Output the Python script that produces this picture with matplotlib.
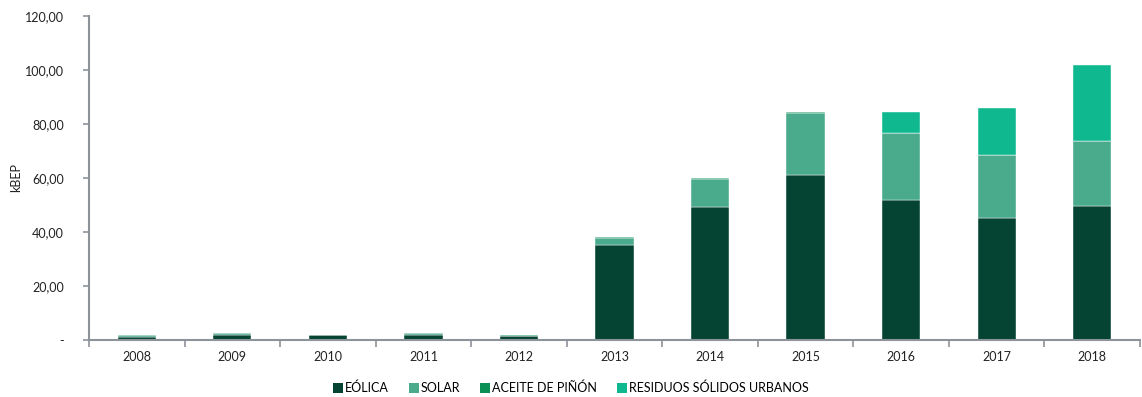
import matplotlib
matplotlib.use("Agg")
import matplotlib.pyplot as plt
from matplotlib.ticker import FixedLocator, FuncFormatter
from matplotlib.patches import Patch
import numpy as np

plt.rcParams['font.family'] = ['Lato', 'DejaVu Sans']

years = ['2008', '2009', '2010', '2011', '2012', '2013', '2014', '2015', '2016', '2017', '2018']
eolica = [1.2, 1.8, 2.0, 1.8, 1.3, 35.2, 49.1, 61.1, 51.9, 45.2, 49.8]
solar = [0.5, 0.7, 0.0, 0.7, 0.0, 2.4, 10.7, 23.0, 24.6, 23.5, 23.9]
aceite = [0.0, 0.0, 0.0, 0.0, 0.7, 0.4, 0.3, 0.3, 0.0, 0.0, 0.0]
rsu = [0.0, 0.0, 0.0, 0.0, 0.0, 0.0, 0.0, 0.0, 7.9, 17.4, 28.2]

series = [('EÓLICA', eolica, '#054333'),
          ('SOLAR', solar, '#4aaa8c'),
          ('ACEITE DE PIÑÓN', aceite, '#0a8f55'),
          ('RESIDUOS SÓLIDOS URBANOS', rsu, '#10b890')]

fig = plt.figure(figsize=(11.42, 3.97), dpi=100)
ax = fig.add_axes([89/1142, 1-340/397, (1140-89)/1142, (340-16)/397])

x = np.arange(len(years))
bottom = np.zeros(len(years))
for name, vals, col in series:
    v = np.array(vals)
    ax.bar(x, v, width=0.4, bottom=bottom, color=col, edgecolor='white', linewidth=0.3, zorder=2)
    bottom += v

ax.set_xlim(-0.5, len(years) - 0.5)
ax.set_ylim(0, 120)
ax.yaxis.set_major_locator(FixedLocator([0, 20, 40, 60, 80, 100, 120]))
ax.yaxis.set_major_formatter(FuncFormatter(lambda v, p: '-' if v == 0 else f'{v:.2f}'.replace('.', ',')))
ax.set_xticks(x)
ax.set_xticklabels(years)
ax.xaxis.set_minor_locator(FixedLocator(np.arange(-0.5, len(years), 1.0)))
ax.tick_params(axis='x', which='major', length=0, labelsize=9, colors='#222222', pad=8)
ax.tick_params(axis='x', which='minor', length=5, color='#8c9399', width=1.2)
ax.tick_params(axis='y', length=4, color='#8c9399', width=1.2, labelsize=9, labelcolor='#222222', pad=14)
for s in ['top', 'right']:
    ax.spines[s].set_visible(False)
for s in ['left', 'bottom']:
    ax.spines[s].set_color('#8c9399')
    ax.spines[s].set_linewidth(1.5)
ax.set_ylabel('kBEP', fontsize=9, color='#222222', labelpad=2)

handles = [Patch(facecolor=c, edgecolor='none') for _, _, c in series]
labels = [n for n, _, _ in series]
fig.legend(handles, labels, loc='center', bbox_to_anchor=(0.5, 1 - 388/397), ncol=4,
           frameon=False, fontsize=9, handlelength=0.8, handleheight=0.8, handletextpad=0.15,
           columnspacing=1.6)

fig.savefig('out.png', dpi=100)
